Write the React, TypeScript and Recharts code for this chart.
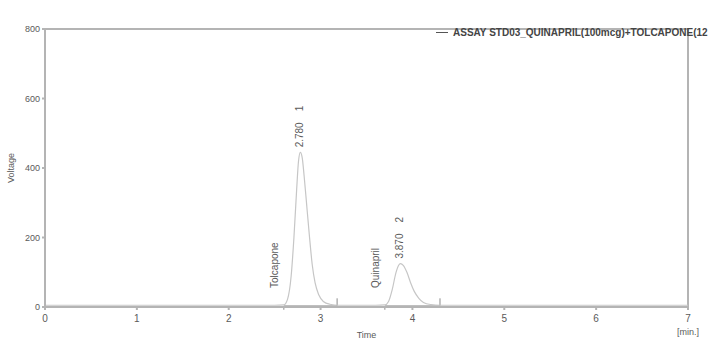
import {
  ComposedChart,
  Line,
  Scatter,
  XAxis,
  YAxis,
  ReferenceLine,
  Legend,
} from "recharts";

// chromatogram trace
const times = [
  0, 0.5, 1, 1.5, 2, 2.3, 2.5, 2.6, 2.64, 2.68, 2.71, 2.74, 2.76, 2.78, 2.8,
  2.82, 2.85, 2.88, 2.91, 2.94, 2.98, 3.03, 3.1, 3.2, 3.4, 3.6, 3.7, 3.74,
  3.78, 3.82, 3.85, 3.87, 3.9, 3.94, 3.98, 4.02, 4.07, 4.12, 4.2, 4.3, 4.6,
  5, 5.5, 6, 6.5, 7,
];
const voltages = [
  5, 5, 5, 5, 5, 5, 5, 6, 22, 90, 200, 340, 420, 445, 430, 380, 290, 200, 120,
  70, 35, 16, 8, 5, 5, 5, 6, 16, 50, 98, 120, 125, 120, 100, 70, 45, 25, 13,
  7, 5, 5, 5, 5, 5, 5, 5,
];

const xTicks = [0, 1, 2, 3, 4, 5, 6, 7];
const yTicks = [0, 200, 400, 600, 800];

const peakTimes = [2.78, 3.87];
const peakHeights = [445, 125];
const peakRetention = ["2.780", "3.870"];
const peakNumbers = ["1", "2"];
const compoundNames = ["Tolcapone", "Quinapril"];
const peakStarts = [2.6, 3.7];
const peakEnds = [3.18, 4.3];
const baselineLevel = 3;
const markerTop = 25;

const seriesName = "ASSAY STD03_QUINAPRIL(100mcg)+TOLCAPONE(12";

const trace = times.map((t, i) => ({ t, v: voltages[i] }));
const peaks = peakTimes.map((t, i) => ({
  t,
  v: peakHeights[i],
  rt: peakRetention[i],
  n: peakNumbers[i],
}));
const names = peakStarts.map((t, i) => ({
  t,
  v: baselineLevel,
  name: compoundNames[i],
}));

const textColor = "#5a5a5a";
const axisColor = "#b4b4b4";
const traceColor = "#c6c6c6";
const font = "Arial, Liberation Sans, sans-serif";

function PeakLabel(props: any) {
  const { cx, cy, payload } = props;
  if (cx == null || cy == null) return null;
  return (
    <g>
      <text
        transform={`translate(${cx + 3},${cy - 5}) rotate(-90)`}
        fontSize={10}
        fill={textColor}
        fontFamily={font}
      >
        {payload.rt}
      </text>
      <text
        transform={`translate(${cx + 3},${cy - 41}) rotate(-90)`}
        fontSize={10}
        fill={textColor}
        fontFamily={font}
      >
        {payload.n}
      </text>
    </g>
  );
}

function NameLabel(props: any) {
  const { cx, cy, payload } = props;
  if (cx == null || cy == null) return null;
  return (
    <text
      transform={`translate(${cx - 6},${cy - 18}) rotate(-90)`}
      fontSize={10}
      fill={textColor}
      fontFamily={font}
    >
      {payload.name}
    </text>
  );
}

function LegendBox() {
  return (
    <div
      style={{
        display: "flex",
        alignItems: "center",
        whiteSpace: "nowrap",
        fontFamily: font,
        fontWeight: "bold",
        fontSize: 10,
        color: "#444",
      }}
    >
      <span
        style={{
          display: "inline-block",
          width: 12,
          height: 1.5,
          background: "#555",
          marginRight: 5,
        }}
      />
      {seriesName}
    </div>
  );
}

export default function App() {
  return (
    <div
      style={{
        position: "absolute",
        left: 0,
        top: 0,
        width: 716,
        height: 341,
        overflow: "hidden",
        background: "#fff",
      }}
    >
      <ComposedChart
        width={716}
        height={341}
        data={trace}
        margin={{ top: 18, right: 28, left: 10, bottom: 8 }}
      >
        <XAxis
          dataKey="t"
          type="number"
          domain={[0, 7]}
          ticks={xTicks}
          height={26}
          stroke={axisColor}
          strokeWidth={2}
          tickSize={3}
          tickMargin={5}
          tick={{ fill: textColor, fontSize: 10, fontFamily: "Arial" }}
          label={{
            value: "Time",
            position: "insideBottom",
            offset: -5,
            fill: textColor,
            fontSize: 9,
            fontFamily: "Arial",
          }}
        />
        <YAxis
          type="number"
          domain={[0, 800]}
          ticks={yTicks}
          width={35}
          stroke={axisColor}
          strokeWidth={2}
          tickSize={3}
          tick={{ fill: textColor, fontSize: 9, fontFamily: "Arial" }}
          label={{
            value: "Voltage",
            angle: -90,
            position: "insideLeft",
            offset: 0,
            dx: 1,
            fill: textColor,
            fontSize: 9,
            fontFamily: "Arial",
            style: { textAnchor: "middle" },
          }}
        />
        <ReferenceLine y={800} stroke={axisColor} strokeWidth={2} />
        <ReferenceLine
          x={7}
          stroke={axisColor}
          strokeWidth={2}
          label={{
            value: "[min.]",
            position: "bottom",
            offset: 22,
            fill: textColor,
            fontSize: 9,
            fontFamily: "Arial",
          }}
        />
        {peakStarts.map((s, i) => (
          <ReferenceLine
            key={`base-${i}`}
            segment={[
              { x: s, y: baselineLevel },
              { x: peakEnds[i], y: baselineLevel },
            ]}
            stroke="#8a8a8a"
            strokeWidth={1}
          />
        ))}
        {peakEnds.map((e, i) => (
          <ReferenceLine
            key={`end-${i}`}
            segment={[
              { x: e, y: baselineLevel },
              { x: e, y: markerTop },
            ]}
            stroke="#8a8a8a"
            strokeWidth={1}
          />
        ))}
        {peakStarts.map((s, i) => (
          <ReferenceLine
            key={`start-${i}`}
            segment={[
              { x: s, y: baselineLevel },
              { x: s, y: -8 },
            ]}
            stroke="#8a8a8a"
            strokeWidth={1}
            ifOverflow="visible"
          />
        ))}
        <Line
          dataKey="v"
          type="monotone"
          stroke={traceColor}
          strokeWidth={1.2}
          dot={false}
          isAnimationActive={false}
          legendType="none"
        />
        <Scatter
          data={peaks}
          dataKey="v"
          shape={PeakLabel}
          isAnimationActive={false}
          legendType="none"
        />
        <Scatter
          data={names}
          dataKey="v"
          shape={NameLabel}
          isAnimationActive={false}
          legendType="none"
        />
        <Legend
          content={LegendBox}
          verticalAlign="top"
          wrapperStyle={{ top: 27, left: 436, width: 400 }}
        />
      </ComposedChart>
    </div>
  );
}
